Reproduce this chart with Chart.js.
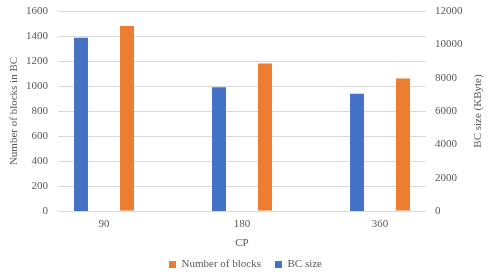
<!DOCTYPE html>
<html>
<head>
<meta charset="utf-8">
<script src="https://cdn.jsdelivr.net/npm/chart.js@4/dist/chart.umd.min.js"></script>
<style>
  html, body { margin: 0; padding: 0; background: #ffffff; }
  #wrap { width: 491px; height: 276px; position: relative; }
</style>
</head>
<body>
<div id="wrap"><canvas id="grafico"></canvas></div>
<script>
(function () {
    // dados
    const cpLabels = ['90', '180', '360'];
    const numBlocks = [1480, 1180, 1060];
    const bcSize = [10400, 7420, 7040];
    const leftTicks = [0, 200, 400, 600, 800, 1000, 1200, 1400, 1600];
    const rightTicks = [0, 2000, 4000, 6000, 8000, 10000, 12000];

    const paleta = {
        azul: '#4472C4',
        laranja: '#ED7D31',
        texto: '#595959',
        grade: '#d9d9d9'
    };

    const fonte = { family: '"Liberation Serif", "Times New Roman", serif', size: 11 };

    // titulo do eixo direito lido de baixo para cima (como no Excel)
    const tituloDireito = {
        id: 'tituloDireito',
        afterDraw(chart) {
            const { ctx, chartArea } = chart;
            ctx.save();
            ctx.font = fonte.size + 'px ' + fonte.family;
            ctx.fillStyle = paleta.texto;
            ctx.textAlign = 'center';
            ctx.textBaseline = 'middle';
            ctx.translate(chart.width - 13, (chartArea.top + chartArea.bottom) / 2);
            ctx.rotate(-Math.PI / 2);
            ctx.fillText('BC size (KByte)', 0, 0);
            ctx.restore();
        }
    };

    // largura fixa do eixo y e sem folga extra em cima/embaixo
    const ajustaY = (largura) => (s) => {
        s.width = largura;
        s.paddingTop = 0;
        s.paddingBottom = 0;
    };

    new Chart(document.getElementById('grafico'), {
        type: 'bar',
        data: {
            datasets: [{
                label: 'BC size',
                data: bcSize.map((v, i) => ({ x: i, y: v })),
                backgroundColor: paleta.azul,
                yAxisID: 'y1'
            }, {
                label: 'Number of blocks',
                data: numBlocks.map((v, i) => ({ x: i, y: v })),
                backgroundColor: paleta.laranja,
                yAxisID: 'y'
            }]
        },
        options: {
            responsive: true,
            maintainAspectRatio: false,
            animation: false,
            categoryPercentage: 0.667,
            barPercentage: 0.304,
            layout: { padding: { top: 11, bottom: -4, left: 0, right: 0 } },
            plugins: {
                legend: {
                    position: 'bottom',
                    reverse: true,
                    labels: {
                        boxWidth: 7,
                        boxHeight: 7,
                        padding: 14,
                        color: paleta.texto,
                        font: fonte
                    }
                },
                tooltip: { enabled: false }
            },
            scales: {
                x: {
                    type: 'linear',
                    offset: false,
                    min: -1 / 3,
                    max: 7 / 3,
                    afterBuildTicks: (s) => { s.ticks = cpLabels.map((_, i) => ({ value: i })); },
                    afterFit: (s) => { s.height = 34; },
                    grid: { display: false, offset: false, drawTicks: false },
                    border: { display: false },
                    ticks: {
                        color: paleta.texto,
                        font: fonte,
                        padding: 7,
                        callback: (v) => cpLabels[Math.round(v)]
                    },
                    title: {
                        display: true,
                        text: 'CP',
                        color: paleta.texto,
                        font: fonte,
                        padding: { top: 0, bottom: -5 }
                    }
                },
                y: {
                    position: 'left',
                    min: 0,
                    max: 1600,
                    afterBuildTicks: (s) => { s.ticks = leftTicks.map(v => ({ value: v })); },
                    afterFit: ajustaY(58),
                    grid: { color: paleta.grade, drawTicks: false },
                    border: { display: false },
                    ticks: { color: paleta.texto, font: fonte, padding: 10, callback: (v) => String(v) },
                    title: {
                        display: true,
                        text: 'Number of blocks in BC',
                        color: paleta.texto,
                        font: fonte,
                        padding: { top: 8, bottom: 0 }
                    }
                },
                y1: {
                    position: 'right',
                    min: 0,
                    max: 12000,
                    afterBuildTicks: (s) => { s.ticks = rightTicks.map(v => ({ value: v })); },
                    afterFit: ajustaY(65),
                    grid: { display: false, drawTicks: false },
                    border: { display: false },
                    ticks: { color: paleta.texto, font: fonte, padding: 9, callback: (v) => String(v) }
                }
            }
        },
        plugins: [tituloDireito]
    });
})();
</script>
</body>
</html>
